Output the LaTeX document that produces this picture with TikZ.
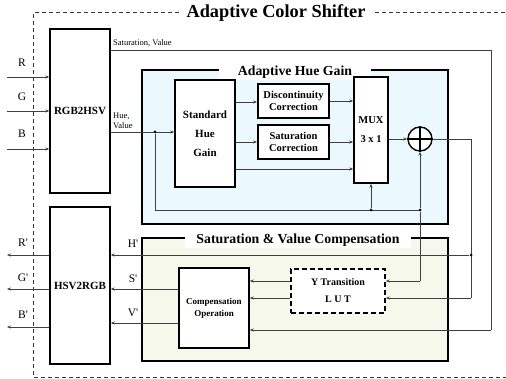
\documentclass[tikz,border=0pt]{standalone}
\usepackage{fontspec}
\setmainfont{Liberation Serif}
\usetikzlibrary{arrows.meta,calc}
\definecolor{ahgfill}{HTML}{EBF8FD}
\definecolor{svcfill}{HTML}{F7F8EC}
\definecolor{wire}{HTML}{404040}
\tikzset{
  blk/.style={draw=black,line width=1.4pt,fill=white,inner sep=1pt,align=center,font=\fontsize{11}{13}\selectfont\bfseries},
  thickblk/.style={blk,line width=1.8pt},
  wireline/.style={draw=wire,line width=0.9pt},
  arr/.style={wireline,-{Stealth[length=4pt,width=3pt]}},
  jdot/.style={circle,fill=black,inner sep=0pt,minimum size=3pt},
  lbl/.style={font=\fontsize{11.5}{13}\selectfont,inner sep=0pt},
  smalllbl/.style={font=\fontsize{8.5}{9.5}\selectfont,inner sep=0pt,align=left},
  grouptitle/.style={fill=white,font=\fontsize{13.8}{15}\selectfont\bfseries,inner ysep=2pt},
}
\begin{document}
\begin{tikzpicture}[x=1pt,y=-1pt]
\useasboundingbox (0,0) rectangle (506,379);
% outer dashed frame
\draw[line width=1pt,dashed,dash pattern=on 4pt off 3pt,draw=black!80] (179,13) -- (33,13) -- (33,377) -- (506,377);
\draw[line width=1pt,dashed,dash pattern=on 4pt off 3pt,draw=black!80] (375,13) -- (506,13);
\node[font=\fontsize{18.3}{20}\selectfont\bfseries,inner sep=0pt] (title) at (276,13) {Adaptive Color Shifter};

% group boxes
\draw[line width=1.4pt,fill=ahgfill] (142,70) rectangle (448,224);
\node[grouptitle,inner xsep=19pt] (ahgtitle) at (295,72) {Adaptive Hue Gain};
\draw[line width=1.4pt,fill=svcfill] (142,238) rectangle (448,361);
\node[grouptitle,inner xsep=11pt] (svctitle) at (298,240) {Saturation \& Value Compensation};

% blocks
\node[blk,minimum width=60pt,minimum height=164pt] (rgb) at (80,111) {RGB2HSV};
\node[blk,minimum width=60pt,minimum height=157pt] (hsv) at (80,285.5) {HSV2RGB};
\node[blk,minimum width=60pt,minimum height=107pt] (shg) at (205,133.5) {Standard\\[6pt]Hue\\[6pt]Gain};
\node[thickblk,minimum width=71pt,minimum height=34pt,font=\fontsize{10.5}{12}\selectfont\bfseries] (disc) at (293.5,101) {Discontinuity\\Correction};
\node[thickblk,minimum width=71pt,minimum height=34pt,font=\fontsize{10.5}{12}\selectfont\bfseries] (satc) at (293.5,142) {Saturation\\Correction};
\node[blk,minimum width=34pt,minimum height=106pt,font=\fontsize{10.5}{12}\selectfont\bfseries] (mux) at (371,130) {MUX\\[7pt]3 x 1};
\node[draw=black,line width=1.4pt,fill=white,circle,minimum size=24pt,inner sep=0pt] (add) at (420,139) {};
\draw[line width=1.4pt] (add.north) -- (add.south) (add.west) -- (add.east);
\node[blk,dashed,dash pattern=on 5pt off 3pt,line width=1.6pt,minimum width=94pt,minimum height=44pt,font=\fontsize{10}{12}\selectfont\bfseries] (lut) at (338,291) {Y Transition\\[5pt]L U T};
\node[blk,minimum width=70pt,minimum height=80pt,font=\fontsize{9}{12}\selectfont\bfseries] (comp) at (214,308) {Compensation\\Operation};

% inputs
\coordinate (inR) at (7,77);
\coordinate (inG) at (7,111);
\coordinate (inB) at (7,149);
\draw[arr] (inR) -- (inR -| rgb.west);
\draw[arr] (inG) -- (inG -| rgb.west);
\draw[arr] (inB) -- (inB -| rgb.west);
\node[lbl] (lR) at (22,63) {R};
\node[lbl] (lG) at (22,97) {G};
\node[lbl] (lB) at (22,134) {B};

% outputs
\coordinate (outR) at (7,255);
\coordinate (outG) at (7,289);
\coordinate (outB) at (7,327);
\draw[arr] (outR -| hsv.west) -- (outR);
\draw[arr] (outG -| hsv.west) -- (outG);
\draw[arr] (outB -| hsv.west) -- (outB);
\node[lbl] (lR2) at (23,243) {R\textquotesingle};
\node[lbl] (lG2) at (23,278) {G\textquotesingle};
\node[lbl] (lB2) at (23,315) {B\textquotesingle};

% saturation, value path
\coordinate (sv1) at (491,50.7);
\coordinate (sv2) at (491,330);
\draw[wireline] (sv1 -| rgb.east) -- (sv1) -- (sv2);
\draw[arr] (sv2) -- (sv2 -| comp.east);
\node[smalllbl,anchor=west] (lsv) at (113,43) {Saturation, Value};

% hue, value
\coordinate (hv) at (155,132);
\draw[arr] (hv -| rgb.east) -- (hv -| shg.west);
\node[smalllbl,anchor=west] (lhv) at (113,121) {Hue,\\Value};
\node[jdot] (j1) at (hv) {};
\coordinate (jm) at (371,210);
\coordinate (ja) at (420,210);
\draw[wireline] (j1) |- (ja);
\node[jdot] (j2) at (jm) {};
\node[jdot] (j3) at (ja) {};
\draw[arr] (j2) -- (mux.south);
\draw[arr] (j3) -- (add.south);
\coordinate (lutin1) at (420,281);
\draw[wireline] (j3) -- (lutin1);
\draw[arr] (lutin1) -- (lutin1 -| lut.east);

% standard hue gain outputs
\coordinate (s1) at (235,102);
\coordinate (s2) at (235,142);
\coordinate (s3) at (235,169);
\draw[arr] (s1 -| shg.east) -- (s1 -| disc.west);
\draw[arr] (s2 -| shg.east) -- (s2 -| satc.west);
\draw[arr] (s3 -| shg.east) -- (s3 -| mux.west);
\draw[arr] (disc.east) -- (disc.east -| mux.west);
\draw[arr] (satc.east) -- (satc.east -| mux.west);
\draw[arr] (add.west -| mux.east) -- (add.west);

% adder output
\coordinate (ao1) at (471,139);
\coordinate (ao2) at (471,298);
\draw[wireline] (add.east) -- (ao1) -- (ao2);
\draw[arr] (ao2) -- (ao2 -| lut.east);
\node[jdot] (j4) at (471,255) {};
\draw[arr] (j4) -- (j4 -| hsv.east);

% LUT to compensation
\coordinate (l1) at (291,281);
\coordinate (l2) at (291,298);
\draw[arr] (l1 -| lut.west) -- (l1 -| comp.east);
\draw[arr] (l2 -| lut.west) -- (l2 -| comp.east);

% compensation to HSV2RGB
\coordinate (c1) at (179,289);
\coordinate (c2) at (179,323);
\draw[arr] (c1 -| comp.west) -- (c1 -| hsv.east);
\draw[arr] (c2 -| comp.west) -- (c2 -| hsv.east);
\node[lbl] (lH) at (133,244) {H\textquotesingle};
\node[lbl] (lS) at (133,279) {S\textquotesingle};
\node[lbl] (lV) at (133,313) {V\textquotesingle};
\end{tikzpicture}
\end{document}
